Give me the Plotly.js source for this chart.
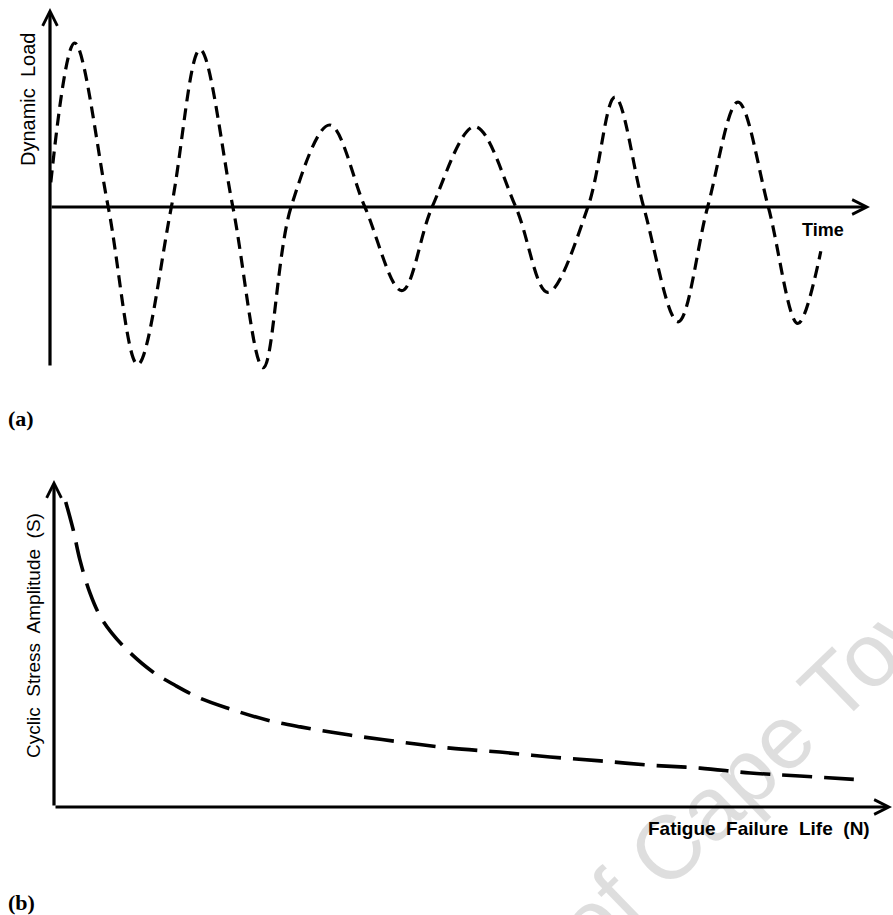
<!DOCTYPE html>
<html>
<head>
<meta charset="utf-8">
<script src="https://cdn.plot.ly/plotly-3.0.1.min.js"></script>
<style>html,body{margin:0;padding:0;background:#fff;}#chart{width:893px;height:915px;}</style>
</head>
<body>
<div id="chart"></div>
<script>
// (a) Dynamic load history: key points (start, peaks, zero crossings, troughs, end)
const time = [0.1, 3.0, 7.1, 10.7, 14.8, 18.3, 22.3, 26.0, 29.4, 34.1, 38.4, 42.9, 46.6, 51.8, 56.8, 60.7, 65.6, 68.9, 72.4, 76.6, 80.2, 83.9, 87.6, 91.2, 94.0];
const load = [0.15, 1.00, 0, -0.96, 0, 0.96, 0, -0.98, 0, 0.50, 0, -0.51, 0, 0.49, 0, -0.52, 0, 0.67, 0, -0.70, 0, 0.64, 0, -0.71, -0.27];

// (b) S-N curve
const lifeN = [1.4, 2.3, 3.1, 4.3, 5.5, 6.9, 9.1, 11.8, 14.4, 17.4, 21.0, 25.4, 29.4, 35.3, 41.3, 47.3, 53.2, 59.2, 65.2, 71.1, 77.1, 83.1, 89.0, 96.4];
const stressS = [93.3, 84.7, 75.5, 65.4, 58.4, 53.2, 47.1, 41.3, 37.3, 33.3, 30.0, 26.6, 24.5, 22.0, 19.9, 18.0, 16.8, 15.3, 14.1, 12.8, 11.9, 10.4, 9.5, 8.3];

// text
const labelA = "(a)", labelB = "(b)";
const yTitleA = "Dynamic\u00A0 Load", xTitleA = "Time";
const yTitleB = "Cyclic\u00A0 Stress\u00A0 Amplitude\u00A0 (S)";
const xTitleB = "Fatigue\u00A0 Failure\u00A0 Life\u00A0 (N)";
const watermark = "University of Cape Town";

const W = 893, H = 915;
const px = v => v / W, py = v => 1 - v / H;
const SANS = 'Liberation Sans, Arial, sans-serif';
const SERIF = 'Liberation Serif, Times New Roman, serif';

const traces = [
  {x: time, y: load, xaxis: 'x', yaxis: 'y', mode: 'lines', hoverinfo: 'skip',
   line: {color: '#000', width: 3.2, dash: '12px,7px', shape: 'spline', smoothing: 1.0}},
  {x: lifeN, y: stressS, xaxis: 'x2', yaxis: 'y2', mode: 'lines', hoverinfo: 'skip',
   line: {color: '#000', width: 3.6, dash: '30px,12px', shape: 'spline', smoothing: 1.0}}
];

const hidden = {visible: false, showgrid: false, zeroline: false, fixedrange: true};

function arrow(xr, yr, x, y, ax, ay) {
  return {xref: xr, yref: yr, axref: xr, ayref: yr, x: x, y: y, ax: ax, ay: ay, text: '',
          showarrow: true, arrowhead: 5, arrowsize: 0.9, arrowwidth: 3.2, arrowcolor: '#000', standoff: 0};
}
function txt(t, x, y, size, family, bold, angle, xanchor) {
  return {xref: 'paper', yref: 'paper', x: px(x), y: py(y), text: bold ? '<b>' + t + '</b>' : t,
          showarrow: false, textangle: angle || 0, xanchor: xanchor || 'center', yanchor: 'middle',
          font: {family: family, size: size, color: '#000'}};
}

const annotations = [
  {xref: 'paper', yref: 'paper', x: px(618), y: py(896), text: watermark, showarrow: false,
   textangle: -44, xanchor: 'center', yanchor: 'middle',
   font: {family: SANS, size: 90, color: 'rgba(0,0,0,0.13)'}},
  arrow('x', 'y', 0, 1.213, 0, -0.976),
  arrow('x', 'y', 100, 0, 0, 0),
  arrow('x2', 'y2', 0, 100, 0, 0),
  arrow('x2', 'y2', 100, 0, 0, 0),
  txt(yTitleA, 28, 100, 20, SANS, false, -90),
  txt(xTitleA, 823, 230, 18, SANS, true, 0),
  txt(yTitleB, 33, 636, 19, SANS, false, -90),
  txt(xTitleB, 759, 828, 19, SANS, true, 0),
  txt(labelA, 6, 419, 22, SERIF, true, 0, 'left'),
  txt(labelB, 6, 902, 22, SERIF, true, 0, 'left')
];

const layout = {
  width: W, height: H, margin: {l: 0, r: 0, t: 0, b: 0},
  paper_bgcolor: '#fff', plot_bgcolor: 'rgba(0,0,0,0)', showlegend: false,
  xaxis: Object.assign({domain: [0, 1], range: [-50 / 8.2, 843 / 8.2], anchor: 'y'}, hidden),
  yaxis: Object.assign({domain: [1 - 400 / H, 1], range: [-193 / 164, 207 / 164], anchor: 'x'}, hidden),
  xaxis2: Object.assign({domain: [0, 1], range: [-54 / 8.38, 839 / 8.38], anchor: 'y2'}, hidden),
  yaxis2: Object.assign({domain: [0, 475 / H], range: [-108 / 3.27, 367 / 3.27], anchor: 'x2'}, hidden),
  annotations: annotations
};

Plotly.newPlot('chart', traces, layout, {staticPlot: true, displayModeBar: false});
</script>
</body>
</html>
